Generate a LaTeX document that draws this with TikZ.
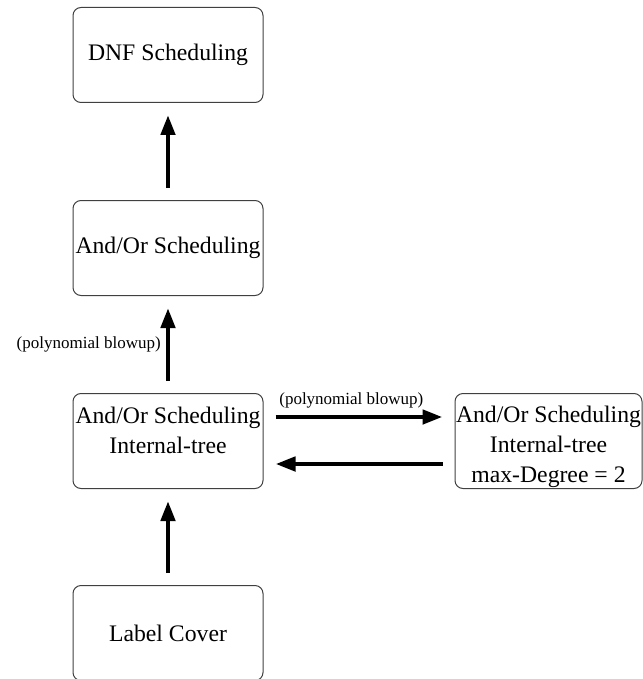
\documentclass[tikz,border=0pt]{standalone}
\usepackage{fontspec}
\setmainfont{Liberation Serif}
\usepackage{tikz}
\usetikzlibrary{positioning,arrows.meta}

\begin{document}
\begin{tikzpicture}[x=1pt,y=-1pt,
        box/.style={draw=black!75, line width=1pt, rounded corners=8pt,
            minimum width=190pt, minimum height=95pt, inner sep=0pt,
            align=center, font=\fontsize{23.7}{30}\selectfont},
        arr/.style={line width=4.5pt, -{Triangle[length=20pt,width=14pt]},
            shorten <=12pt, shorten >=12pt},
        lbl/.style={font=\fontsize{17}{20}\selectfont, inner sep=2pt}]
    \useasboundingbox (0,0) rectangle (642,679);
    % boxes
    \node[box] (dnf) at (168,55) {DNF Scheduling};
    \node[box, below=97pt of dnf] (ao) {And/Or Scheduling};
    \node[box, below=97pt of ao] (tree) {\rule{0pt}{29pt}And/Or Scheduling\\Internal-tree\\\rule[-5pt]{0pt}{5pt}};
    \node[box, below=96pt of tree] (lc) {Label Cover};
    \node[box, minimum width=187pt, right=191pt of tree] (deg)
        {\rule{0pt}{29pt}And/Or Scheduling\\Internal-tree\\max-Degree = 2};
    % reductions
    \draw[arr] (ao) -- (dnf);
    \draw[arr] (tree) -- node[lbl, left=3pt] {(polynomial blowup)} (ao);
    \draw[arr] (lc) -- (tree);
    \draw[arr] ([yshift=24pt]tree.east) -- node[lbl, above=5pt, pos=0.46] {(polynomial blowup)} ([yshift=24pt]deg.west);
    \draw[arr] ([yshift=-23pt]deg.west) -- ([yshift=-23pt]tree.east);
\end{tikzpicture}
\end{document}
